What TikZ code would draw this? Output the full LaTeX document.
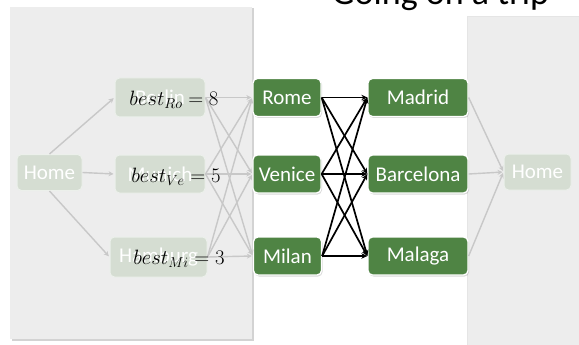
\documentclass[tikz,border=0pt]{standalone}
\usepackage{fontspec}
\setmainfont{Carlito}
\usetikzlibrary{arrows.meta,shadows}
\definecolor{panel}{HTML}{EDEDED}
\definecolor{leaf}{HTML}{4F8444}
\definecolor{fade}{HTML}{D5DDD2}
\definecolor{wire}{HTML}{C8C8C8}
\begin{document}
\begin{tikzpicture}[x=1pt,y=-1pt,
  city/.style={draw=white, line width=1.3pt, fill=leaf, rounded corners=4.5pt,
    text=white, font=\fontsize{21}{24}\selectfont, inner sep=0pt,
    minimum height=38pt,
    drop shadow={shadow xshift=1pt, shadow yshift=-1.5pt, opacity=0.3}},
  ghost/.style={draw=white!55!fade, line width=1pt, fill=fade, rounded corners=4.5pt,
    text=white, font=\fontsize{21}{24}\selectfont, inner sep=0pt},
  gline/.style={draw=wire, line width=1.4pt, -{Stealth[length=5pt,width=5pt]}, shorten >=1pt},
  bline/.style={draw=black, line width=1.7pt, -{Stealth[length=6pt,width=5.5pt]}},
  score/.style={font=\fontsize{20}{24}\selectfont, inner sep=0pt}]
\useasboundingbox (0,0) rectangle (579,345);

% background panels
\fill[panel, drop shadow={shadow xshift=1.5pt, shadow yshift=-1.5pt, opacity=0.35}] (10,7) rectangle (252,339);
\fill[panel] (467,16) rectangle (579,345);
\draw[white!90!black, line width=0.4pt] (467,345) -- (467,16) -- (579,16);

% title
\node[font=\fontsize{36}{40}\selectfont, anchor=base] (title) at (440.5,5) {Going on a trip};

% faded first stage
\node[ghost, minimum width=65pt, minimum height=36pt] (homeL) at (49.5,172.5) {Home};
\node[ghost, minimum width=90pt, minimum height=39pt] (berlin) at (160,97.5) {Berlin};
\node[ghost, minimum width=90pt, minimum height=38pt] (munich) at (160,174) {Munich};
\node[ghost, minimum width=97pt, minimum height=40pt] (hamburg) at (158.5,257) {Hamburg};
\node[ghost, minimum width=67pt, minimum height=36pt] (homeR) at (537.5,172) {Home};

% cities
\node[city, minimum width=68pt] (rome) at (287,97.5) {Rome};
\node[city, minimum width=68pt] (venice) at (287,174) {Venice};
\node[city, minimum width=68pt] (milan) at (287.5,256) {Milan};
\node[city, minimum width=100pt] (madrid) at (418,97.5) {Madrid};
\node[city, minimum width=100pt] (barcelona) at (418,174) {Barcelona};
\node[city, minimum width=100pt] (malaga) at (418,256) {Malaga};

% gray connectors
\draw[gline] (homeL.north) -- (berlin.west);
\draw[gline] (homeL.east) -- (munich.west);
\draw[gline] (homeL.south) -- (hamburg.west);
\foreach \a in {berlin,munich,hamburg}{
  \foreach \b in {rome,venice,milan}{
    \draw[gline] (\a.east) -- (\b.west);
  }
}
\foreach \a in {madrid,barcelona,malaga}{
  \draw[gline] (\a.east) -- (homeR.west);
}

% best scores
\node[score] (lblRo) at (174,100) {$best_{Ro} = 8$};
\node[score] (lblVe) at (176,177) {$best_{Ve} = 5$};
\node[score] (lblMi) at (179,259) {$best_{Mi} = 3$};

% black connectors
\foreach \a in {rome,venice,milan}{
  \foreach \b in {madrid,barcelona,malaga}{
    \draw[bline] (\a.east) -- (\b.west);
  }
}
\end{tikzpicture}
\end{document}
